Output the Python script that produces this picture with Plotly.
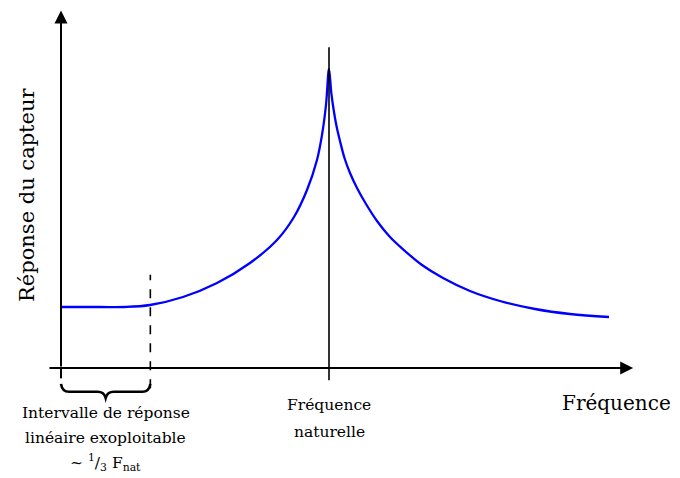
import plotly.graph_objects as go

# Frequency as a fraction of the natural frequency, response in units of the static response
freq_ratio = [0.0, 0.1455, 0.2388, 0.3321, 0.4552, 0.5821, 0.7052, 0.8060, 0.8694, 0.9179,
              0.9552, 0.9739, 0.9888, 1.0,
              1.0086, 1.0175, 1.0280, 1.0410, 1.0578, 1.0784, 1.1045, 1.1381, 1.1791,
              1.2276, 1.2836, 1.3470, 1.4254, 1.5261, 1.6381, 1.7687, 1.8993, 2.0448]
response = [1.0, 1.0, 1.0, 1.0328, 1.1639, 1.3934, 1.7213, 2.0984, 2.4754, 2.9180,
            3.4098, 3.8197, 4.3115, 4.9016,
            4.5082, 4.2295, 3.9672, 3.7213, 3.4426, 3.1967, 2.9508, 2.6885, 2.4098,
            2.1475, 1.9180, 1.6885, 1.4754, 1.2623, 1.0984, 0.9672, 0.8852, 0.8361]

F_NAT = 1.0
LIN_LIMIT = 1.0 / 3.0

label_y = "Réponse du capteur"
label_x = "Fréquence"
label_nat = ["Fréquence", "naturelle"]
label_lin = ["Intervalle de réponse", "linéaire exoploitable",
             "~ <sup>1</sup>/<sub>3</sub> F<sub>nat</sub>"]

W, H = 680, 478
X_RANGE = [-0.1978, 2.3396]
Y_RANGE = [-1.9344, 5.9016]
FONT = "DejaVu Serif"

fig = go.Figure()

fig.add_trace(go.Scatter(
    x=freq_ratio, y=response, mode="lines",
    line=dict(color="#0000ff", width=2.3, shape="spline", smoothing=1.0),
    hoverinfo="skip", showlegend=False))

shapes = []
# natural frequency line
shapes.append(dict(type="line", xref="x", yref="y", x0=F_NAT, x1=F_NAT, y0=-0.2, y1=5.26,
                   line=dict(color="black", width=1.6)))
# limit of linear range (dashed)
shapes.append(dict(type="line", xref="x", yref="y", x0=LIN_LIMIT, x1=LIN_LIMIT, y0=-0.33, y1=1.53,
                   line=dict(color="black", width=1.6, dash="dash")))
# y axis extension below x axis
shapes.append(dict(type="line", xref="x", yref="y", x0=0, x1=0, y0=-0.17, y1=0,
                   line=dict(color="black", width=2)))

# brace under the linear range
b0, b1 = 0.0, LIN_LIMIT
bm = (b0 + b1) / 2
yt, yb, ytip = -0.26, -0.39, -0.49
dx = 0.03
path = (f"M {b0},{yt} Q {b0+0.004},{yb} {b0+dx},{yb} L {bm-dx},{yb} "
        f"Q {bm-0.006},{yb} {bm},{ytip} Q {bm+0.006},{yb} {bm+dx},{yb} "
        f"L {b1-dx},{yb} Q {b1-0.004},{yb} {b1},{yt}")
shapes.append(dict(type="path", xref="x", yref="y", path=path,
                   line=dict(color="black", width=2.6)))

annotations = []
# axes with arrow heads
annotations.append(dict(x=2.135, y=0, ax=-0.0485, ay=0, xref="x", yref="y", axref="x", ayref="y",
                        text="", showarrow=True, arrowhead=2, arrowsize=1.3, arrowwidth=2,
                        arrowcolor="black"))
annotations.append(dict(x=0, y=5.86, ax=0, ay=0, xref="x", yref="y", axref="x", ayref="y",
                        text="", showarrow=True, arrowhead=2, arrowsize=1.3, arrowwidth=2,
                        arrowcolor="black"))

annotations.append(dict(x=-0.1269, y=2.836, xref="x", yref="y", text=label_y,
                        showarrow=False, textangle=-90,
                        font=dict(family=FONT, size=21, color="black")))
annotations.append(dict(x=2.285, y=-0.574, xref="x", yref="y", text=label_x,
                        showarrow=False, xanchor="right",
                        font=dict(family=FONT, size=20, color="black")))
for txt, yy in zip(label_nat, [-0.607, -1.049]):
    annotations.append(dict(x=F_NAT, y=yy, xref="x", yref="y", text=txt,
                            showarrow=False, font=dict(family=FONT, size=15.5, color="black")))
for txt, yy in zip(label_lin, [-0.738, -1.148, -1.545]):
    annotations.append(dict(x=bm, y=yy, xref="x", yref="y", text=txt,
                            showarrow=False, font=dict(family=FONT, size=15.5, color="black")))

fig.update_layout(
    width=W, height=H, margin=dict(l=0, r=0, t=0, b=0),
    paper_bgcolor="white", plot_bgcolor="white",
    xaxis=dict(range=X_RANGE, visible=False, fixedrange=True),
    yaxis=dict(range=Y_RANGE, visible=False, fixedrange=True),
    shapes=shapes, annotations=annotations, showlegend=False)

fig.write_html("out.html")
